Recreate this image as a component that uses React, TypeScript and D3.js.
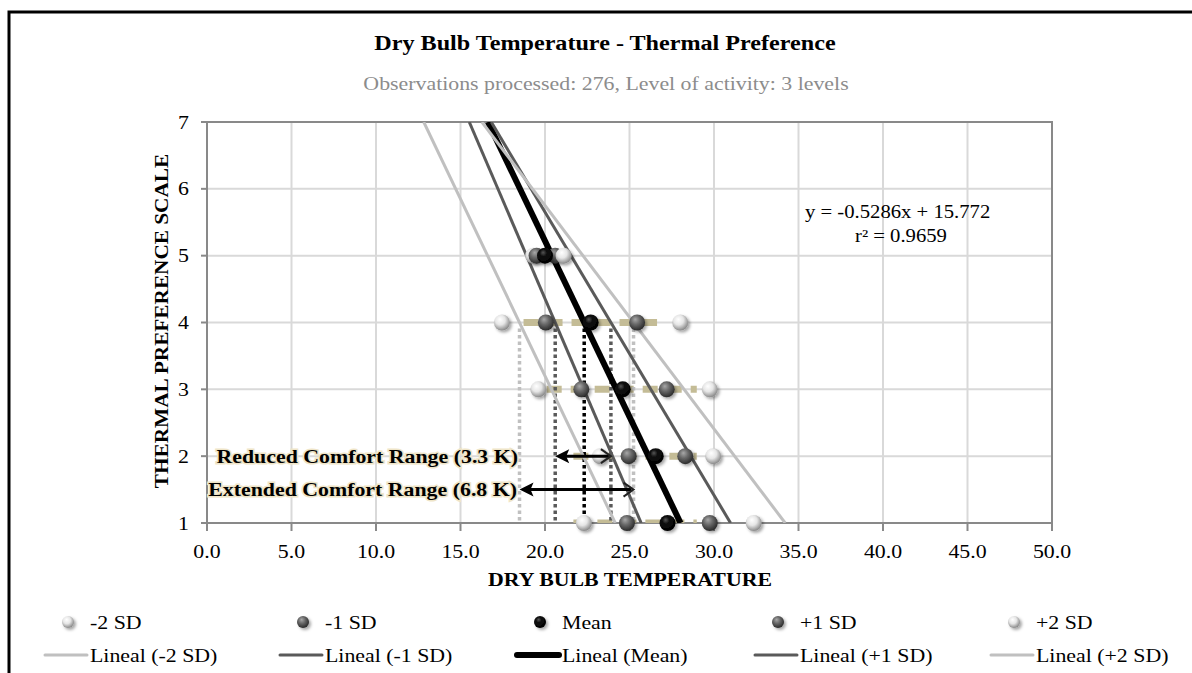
import * as d3 from "d3";

// thermal preference levels and the temperature read for each series
const levels = [1, 2, 3, 4, 5];
const minus2SD = [22.3, 23.25, 19.6, 17.45, 19.3];
const minus1SD = [24.85, 24.95, 22.15, 20.05, 19.5];
const meanVals = [27.25, 26.55, 24.6, 22.7, 20.0];
const plus1SD = [29.75, 28.3, 27.2, 25.45, 20.6];
const plus2SD = [32.35, 29.95, 29.75, 28.0, 21.1];

// tan dashed comfort bands (level, from, to)
const bandLevels = [1, 2, 3, 4];
const bandFrom = [21.68, 21.68, 20.1, 18.73];
const bandTo = [28.98, 28.98, 28.98, 26.63];

const xTicks = [0, 5, 10, 15, 20, 25, 30, 35, 40, 45, 50];
const yTicks = [1, 2, 3, 4, 5, 6, 7];

const seriesNames = ["-2 SD", "-1 SD", "Mean", "+1 SD", "+2 SD"];
const trendNames = ["Lineal (-2 SD)", "Lineal (-1 SD)", "Lineal (Mean)", "Lineal (+1 SD)", "Lineal (+2 SD)"];

const title = "Dry Bulb Temperature - Thermal Preference";
const subtitle = "Observations processed: 276, Level of activity: 3 levels";
const equation = "y = -0.5286x  + 15.772";
const rSquared = "r\u00b2 = 0.9659";

const marginLeft = 207;
const marginRight = 1052;
const marginTop = 122;
const chartBottomY = 523;
const SX = 1.15;
const FONT = "'Liberation Serif', 'Times New Roman', serif";

const series = [
  { vals: minus2SD, grad: "g-light", line: "#c0c0c0", w: 3 },
  { vals: minus1SD, grad: "g-dark", line: "#5a5a5a", w: 3 },
  { vals: meanVals, grad: "g-black", line: "#000", w: 6 },
  { vals: plus1SD, grad: "g-dark", line: "#5a5a5a", w: 3 },
  { vals: plus2SD, grad: "g-light", line: "#c0c0c0", w: 3 },
];

// least squares y = a x + b, like an Excel trendline
const fit = (xs: number[], ys: number[]) => {
  const mx = d3.mean(xs)!;
  const my = d3.mean(ys)!;
  const sxy = d3.sum(xs, (v, i) => (v - mx) * (ys[i] - my));
  const sxx = d3.sum(xs, (v) => (v - mx) ** 2);
  const a = sxy / sxx;
  return { a, b: my - a * mx };
};
const xAt = (f: { a: number; b: number }, yv: number) => (yv - f.b) / f.a;

const Txt = ({ x, y, size = 19, bold = false, fill = "#000", anchor = "start", rotate = 0, children, halo = false }: any) => (
  <text
    transform={`translate(${x},${y}) rotate(${rotate}) scale(${SX},1)`}
    fontSize={size}
    fontWeight={bold ? "bold" : "normal"}
    fill={fill}
    textAnchor={anchor}
    dy="0.35em"
    fontFamily={FONT}
    stroke={halo ? "#efe5c8" : "none"}
    strokeWidth={halo ? 3 : 0}
    paintOrder="stroke"
  >
    {children}
  </text>
);

const App = () => {
  const xScale = d3.scaleLinear().domain([0, 50]).range([marginLeft, marginRight]);
  const yScale = d3.scaleLinear().domain([1, 7]).range([chartBottomY, marginTop]);

  const fits = series.map((s) => fit(s.vals, levels));
  const trendPath = (i: number) =>
    d3
      .line<number>()
      .x((yv) => xScale(xAt(fits[i], yv)))
      .y((yv) => yScale(yv))([1, 7]) || "";

  // comfort limits where the trendlines cross level 4
  const cross = fits.map((f) => xAt(f, 4));

  const arrow = (x1: number, x2: number, yv: number, key: string) => {
    const px1 = xScale(x1);
    const px2 = xScale(x2);
    const py = yScale(yv);
    return (
      <g key={key}>
        <line x1={px1 + 6} x2={px2 - 2} y1={py} y2={py} stroke="#000" strokeWidth={3} />
        <path d={`M${px1},${py} L${px1 + 14},${py - 7} L${px1 + 11},${py} L${px1 + 14},${py + 7} Z`} fill="#000" />
        <path d={`M${px2 - 10},${py - 7} L${px2},${py} L${px2 - 10},${py + 7}`} fill="none" stroke="#222" strokeWidth={2} />
      </g>
    );
  };

  const legendX = [90, 325, 562, 800, 1036];

  return (
    <svg width={1192} height={673} viewBox="0 0 1192 673" style={{ position: "absolute", left: 0, top: 0, background: "#fff" }}>
      <defs>
        <radialGradient id="g-light" cx="0.42" cy="0.38" r="0.62" fx="0.38" fy="0.3">
          <stop offset="0" stopColor="#ffffff" />
          <stop offset="0.5" stopColor="#e6e6e6" />
          <stop offset="1" stopColor="#8a8a8a" />
        </radialGradient>
        <radialGradient id="g-dark" cx="0.42" cy="0.38" r="0.62" fx="0.38" fy="0.3">
          <stop offset="0" stopColor="#a8a8a8" />
          <stop offset="0.45" stopColor="#6a6a6a" />
          <stop offset="1" stopColor="#2b2b2b" />
        </radialGradient>
        <radialGradient id="g-black" cx="0.42" cy="0.38" r="0.62" fx="0.38" fy="0.3">
          <stop offset="0" stopColor="#555" />
          <stop offset="0.35" stopColor="#111" />
          <stop offset="1" stopColor="#000" />
        </radialGradient>
        <filter id="shadow" x="-50%" y="-50%" width="200%" height="200%">
          <feDropShadow dx="2" dy="2" stdDeviation="1.6" floodColor="#000" floodOpacity="0.35" />
        </filter>
        <clipPath id="plot">
          <rect x={marginLeft} y={marginTop} width={marginRight - marginLeft} height={chartBottomY - marginTop} />
        </clipPath>
      </defs>

      <rect x={9} y={12} width={1300} height={800} fill="none" stroke="#000" strokeWidth={3} />

      <Txt x={605} y={43} size={21} bold anchor="middle">{title}</Txt>
      <Txt x={606} y={83} size={19} fill="#8c8c8c" anchor="middle">{subtitle}</Txt>

      {/* grid */}
      {xTicks.map((t) => (
        <line key={"gx" + t} x1={xScale(t)} x2={xScale(t)} y1={marginTop} y2={chartBottomY} stroke="#d9d9d9" strokeWidth={2} />
      ))}
      {yTicks.map((t) => (
        <line key={"gy" + t} x1={marginLeft} x2={marginRight} y1={yScale(t)} y2={yScale(t)} stroke="#d9d9d9" strokeWidth={2} />
      ))}
      <rect x={marginLeft} y={marginTop} width={marginRight - marginLeft} height={chartBottomY - marginTop} fill="none" stroke="#898989" strokeWidth={2} />

      {/* axis ticks and labels */}
      {xTicks.map((t) => (
        <g key={"tx" + t}>
          <line x1={xScale(t)} x2={xScale(t)} y1={chartBottomY} y2={chartBottomY + 8} stroke="#898989" strokeWidth={2} />
          <Txt x={xScale(t)} y={551} anchor="middle">{d3.format(".1f")(t)}</Txt>
        </g>
      ))}
      {yTicks.map((t) => (
        <g key={"ty" + t}>
          <line x1={marginLeft - 6} x2={marginLeft} y1={yScale(t)} y2={yScale(t)} stroke="#898989" strokeWidth={2} />
          <Txt x={189} y={yScale(t)} anchor="end">{t}</Txt>
        </g>
      ))}
      <Txt x={630} y={579} bold anchor="middle">DRY BULB TEMPERATURE</Txt>
      <Txt x={162} y={321} size={18.5} bold anchor="middle" rotate={-90}>THERMAL PREFERENCE SCALE</Txt>

      <g clipPath="url(#plot)">
        {/* comfort bands */}
        {bandLevels.map((l, i) => (
          <line key={"b" + l} x1={xScale(bandFrom[i])} x2={xScale(bandTo[i])} y1={yScale(l)} y2={yScale(l)} stroke="#c4bc96" strokeWidth={7} strokeDasharray="15 9" />
        ))}

        {/* dotted verticals at level 4 */}
        {cross.map((c, i) => (
          <line key={"v" + i} x1={xScale(c)} x2={xScale(c)} y1={yScale(4) + 6} y2={chartBottomY} stroke={series[i].line} strokeWidth={3.5} strokeDasharray="3.5 3" />
        ))}

        {/* trendlines */}
        {series.map((s, i) => (
          <path key={"t" + i} d={trendPath(i)} fill="none" stroke={s.line} strokeWidth={s.w} />
        ))}
      </g>

      {/* markers */}
      {[0, 1, 3, 2, 4].map((si) => (
        <g key={"m" + si} filter="url(#shadow)">
          {series[si].vals.map((v, i) => (
            <circle key={i} cx={xScale(v)} cy={yScale(levels[i])} r={8} fill={`url(#${series[si].grad})`} />
          ))}
        </g>
      ))}

      {arrow(cross[1], cross[3], 2, "reduced")}
      {arrow(cross[0], cross[4], 1.5, "extended")}

      <Txt x={518} y={yScale(2)} bold anchor="end" halo>Reduced Comfort Range (3.3 K)</Txt>
      <Txt x={517} y={yScale(1.5)} bold anchor="end" halo>Extended Comfort Range (6.8 K)</Txt>

      <Txt x={805} y={212} size={18}>{equation}</Txt>
      <Txt x={855} y={236} size={18}>{rSquared}</Txt>

      {/* legend */}
      {seriesNames.map((n, i) => (
        <g key={"l" + i}>
          <circle cx={legendX[i] - 22} cy={622} r={6} fill={`url(#${series[i].grad})`} filter="url(#shadow)" />
          <Txt x={legendX[i]} y={622}>{n}</Txt>
          <line x1={legendX[i] - 45} x2={legendX[i] - 3} y1={655} y2={655} stroke={series[i].line} strokeWidth={series[i].w} strokeLinecap="round" />
          <Txt x={legendX[i]} y={655}>{trendNames[i]}</Txt>
        </g>
      ))}
    </svg>
  );
};

export default App;
